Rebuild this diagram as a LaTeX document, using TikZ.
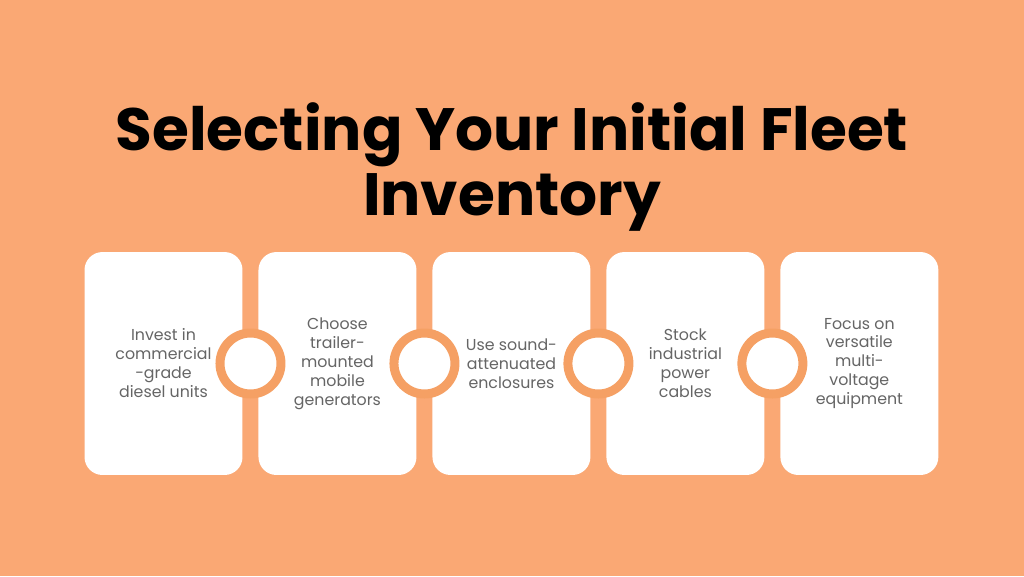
\documentclass[tikz,border=0pt]{standalone}
\usepackage{fontspec}
\setmainfont{Poppins}
\usetikzlibrary{positioning,calc}
\definecolor{bgorange}{HTML}{FAA874}
\definecolor{ringorange}{HTML}{F5A064}
\definecolor{textgray}{HTML}{656565}
\tikzset{
  card/.style={fill=white, rounded corners=0.36cm, minimum width=3.16cm,
    minimum height=4.46cm, inner sep=0pt, outer sep=0pt, align=center,
    text=textgray, font=\fontsize{9}{10.8}\selectfont},
  ring/.style={circle, fill=white, draw=ringorange, line width=0.18cm,
    minimum size=1.22cm, inner sep=0pt, outer sep=0pt},
}

\begin{document}
\begin{tikzpicture}[x=0.02cm, y=-0.02cm]
  \fill[bgorange] (0,0) rectangle (1024,576);
  \useasboundingbox (0,0) rectangle (1024,576);
  \node[font=\fontsize{34}{36.8}\selectfont\bfseries, align=center] (title) at (512,167)
    {Selecting Your Initial Fleet\\Inventory};
  % the five cards, 16px apart
  \node[card] (box1) at (163.5,363.5) {Invest in\\commercial\\-grade\\diesel units};
  \node[card, right=0.32cm of box1] (box2) {Choose\\trailer-\\mounted\\mobile\\generators};
  \node[card, right=0.32cm of box2] (box3) {Use sound-\\attenuated\\enclosures};
  \node[card, right=0.32cm of box3] (box4) {Stock\\industrial\\power\\cables};
  \node[card, right=0.32cm of box4] (box5) {Focus on\\versatile\\multi-\\voltage\\equipment};
  % rings in the gaps
  \node[ring] (ring1) at ($(box1.east)!0.5!(box2.west)$) {};
  \node[ring] (ring2) at ($(box2.east)!0.5!(box3.west)$) {};
  \node[ring] (ring3) at ($(box3.east)!0.5!(box4.west)$) {};
  \node[ring] (ring4) at ($(box4.east)!0.5!(box5.west)$) {};
\end{tikzpicture}
\end{document}
